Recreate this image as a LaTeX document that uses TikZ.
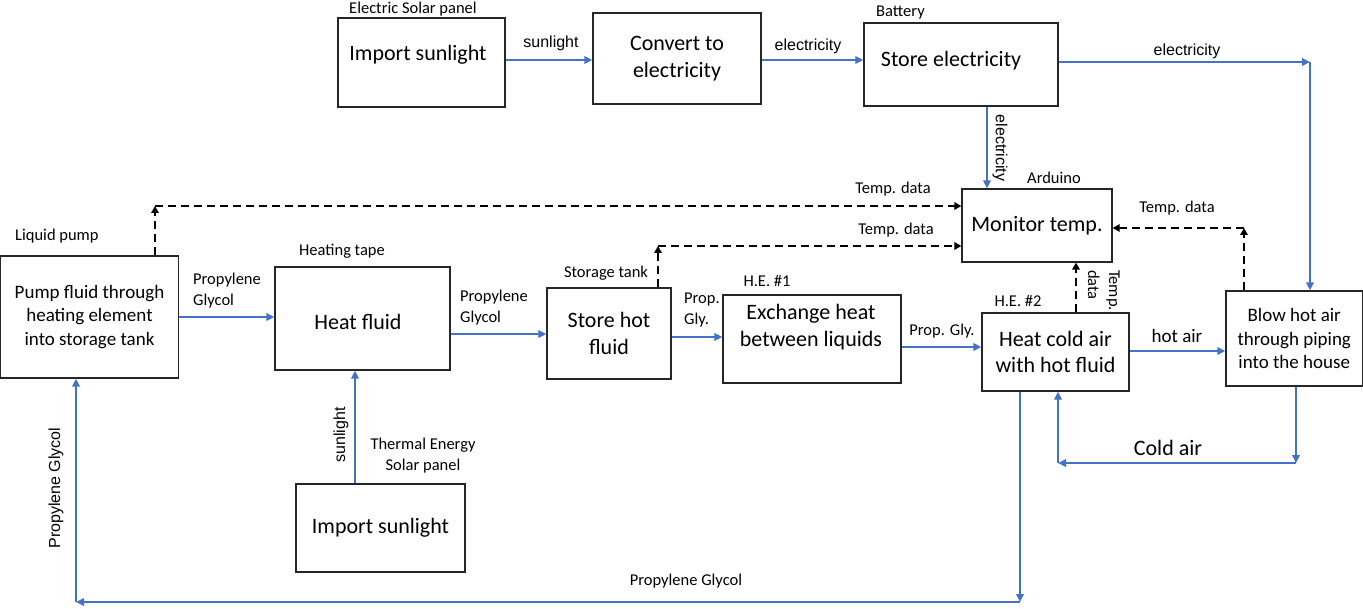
\documentclass[tikz,border=0pt]{standalone}
\usepackage{fontspec}
\setmainfont{Carlito}
\newfontfamily\arialf{Liberation Sans}
\usetikzlibrary{arrows.meta}
\definecolor{flowblue}{RGB}{68,114,196}
\begin{document}
\begin{tikzpicture}[x=1pt,y=-1pt,
  box/.style={draw=black!85, line width=1.3pt, align=center, inner sep=0pt},
  big/.style={font=\fontsize{22}{26.5}\selectfont},
  mid/.style={font=\fontsize{19}{23.5}\selectfont},
  lab/.style={font=\fontsize{16.5}{21}\selectfont, inner sep=0pt},
  alab/.style={font=\arialf\fontsize{16}{19}\selectfont, inner sep=0pt},
  flow/.style={draw=flowblue, line width=2.6pt, -{Triangle[length=8pt,width=7.5pt]}},
  sig/.style={draw=black, line width=2.7pt, dash pattern=on 8pt off 5pt, -{Triangle[length=7pt,width=7.5pt]}},
]
\useasboundingbox (0,0) rectangle (1363,609);

% ---- boxes ----
\node[box, minimum width=167pt, minimum height=89pt] (esp) at (421.5,62.5) {};
\node[big] (esptxt) at (418,55) {Import sunlight};
\node[box, big, minimum width=168pt, minimum height=91pt] (conv) at (677,58.5) {Convert to\\electricity};
\node[box, minimum width=194pt, minimum height=83pt] (batt) at (961,64.5) {};
\node[big] (batttxt) at (951,61) {Store electricity};
\node[box, big, minimum width=150pt, minimum height=73pt] (mon) at (1037,225.5) {Monitor temp.};
\node[box, mid, minimum width=177.5pt, minimum height=122pt] (pump) at (89.5,317) {Pump fluid through\\heating element\\into storage tank};
\node[box, minimum width=175pt, minimum height=103pt] (heat) at (362.5,318.5) {};
\node[big] (heattxt) at (358,322) {Heat fluid};
\node[box, big, minimum width=124pt, minimum height=91pt] (store) at (609,333.5) {Store hot\\fluid};
\node[box, minimum width=178pt, minimum height=88pt] (exch) at (812,339) {};
\node[big, align=center] (exchtxt) at (811,327) {Exchange heat\\between liquids};
\node[box, big, minimum width=147pt, minimum height=78pt] (hca) at (1055.5,352) {Heat cold air\\with hot fluid};
\node[box, mid, minimum width=136.5pt, minimum height=95pt] (blow) at (1294.25,338.5) {Blow hot air\\through piping\\into the house};
\node[box, big, minimum width=169pt, minimum height=88pt] (tesp) at (380.5,528) {Import sunlight};

% ---- helper coordinates ----
\coordinate (ya) at (0,60);
\coordinate (ne) at (1310,62);
\coordinate (xe) at (987,0);
\coordinate (yb) at (0,317);
\coordinate (yc) at (0,334);
\coordinate (yd) at (0,337);
\coordinate (yf) at (0,347);
\coordinate (yg) at (0,351);
\coordinate (ca1) at (1296,463);
\coordinate (ca2) at (1058,463);
\coordinate (pg1) at (1020,602);
\coordinate (pg2) at (76,602);
\coordinate (xs) at (355,0);
\coordinate (d1) at (155,206);
\coordinate (d2) at (658,246);
\coordinate (xd) at (1076,0);
\coordinate (d4) at (1244,228);

% ---- flow connectors ----
\draw[flow] (esp.east |- ya) -- (conv.west |- ya);
\draw[flow] (conv.east |- ya) -- (batt.west |- ya);
\draw[flow] (batt.east |- ne) -- (ne);
\draw[flow] (ne) -- (ne |- blow.north);
\draw[flow] (batt.south -| xe) -- (mon.north -| xe);
\draw[flow] (pump.east |- yb) -- (heat.west |- yb);
\draw[flow] (heat.east |- yc) -- (store.west |- yc);
\draw[flow] (store.east |- yd) -- (exch.west |- yd);
\draw[flow] (exch.east |- yf) -- (hca.west |- yf);
\draw[flow] (hca.east |- yg) -- (blow.west |- yg);
\draw[flow] (blow.south -| ca1) -- (ca1);
\draw[flow] (ca1) -- (ca2);
\draw[flow] (ca2) -- (hca.south -| ca2);
\draw[flow] (hca.south -| pg1) -- (pg1);
\draw[flow] (pg1) -- (pg2);
\draw[flow] (pg2) -- (pump.south -| pg2);
\draw[flow] (tesp.north -| xs) -- (heat.south -| xs);

% ---- data connectors ----
\draw[sig] (pump.north -| d1) -- (d1);
\draw[sig] (d1) -- (mon.west |- d1);
\draw[sig] (store.north -| d2) -- (d2);
\draw[sig] (d2) -- (mon.west |- d2);
\draw[sig] (hca.north -| xd) -- (mon.south -| xd);
\draw[sig] (blow.north -| d4) -- (d4);
\draw[sig] (d4) -- (mon.east |- d4);

% ---- labels ----
\node[lab, anchor=west] (l1) at (349,9) {Electric Solar panel};
\node[alab] (l2) at (551,43) {sunlight};
\node[alab] (l3) at (808,46) {electricity};
\node[lab, anchor=west] (l4) at (876,13) {Battery};
\node[alab] (l5) at (1187,51) {electricity};
\node[alab, rotate=-90] (l6) at (1000,148) {electricity};
\node[lab] (l7) at (1054,178) {Arduino};
\node[lab] (l8) at (893,189) {Temp. data};
\node[lab] (l9) at (896,230) {Temp. data};
\node[lab] (l10) at (1177,208) {Temp. data};
\node[lab, rotate=-90, align=left, anchor=north west] (l11) at (1120,270) {Temp.\\data};
\node[lab, anchor=west] (l12) at (15,236) {Liquid pump};
\node[lab] (l13) at (342,251) {Heating tape};
\node[lab] (l14) at (606,273) {Storage tank};
\node[lab] (l15) at (767,281) {H.E. \#1};
\node[lab] (l16) at (1018,301) {H.E. \#2};
\node[lab, align=left, anchor=west] (l17) at (193,291) {Propylene\\Glycol};
\node[lab, align=left, anchor=west] (l18) at (460,308) {Propylene\\Glycol};
\node[lab, align=left, anchor=west] (l19) at (684,310) {Prop.\\Gly.};
\node[lab] (l20) at (942,331) {Prop. Gly.};
\node[mid] (l21) at (1177,336) {hot air};
\node[big] (l22) at (1168,448) {Cold air};
\node[lab, align=center] (l23) at (423,456) {Thermal Energy\\Solar panel};
\node[alab, rotate=90] (l24) at (341,435) {sunlight};
\node[alab, rotate=90] (l25) at (56,488) {Propylene Glycol};
\node[lab] (l26) at (686,581) {Propylene Glycol};
\end{tikzpicture}
\end{document}
